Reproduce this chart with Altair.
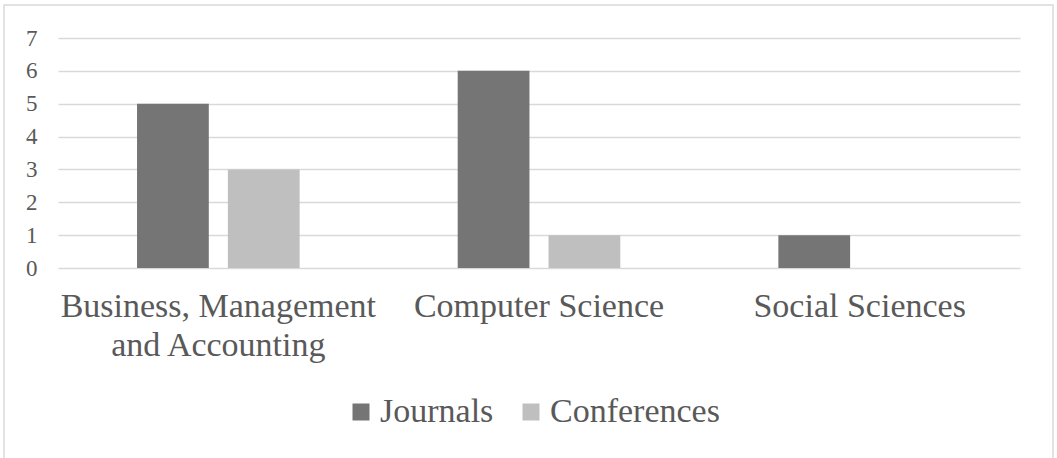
import altair as alt
import pandas as pd

categories = ["Business, Management and Accounting", "Computer Science", "Social Sciences"]
series = ["Journals", "Conferences"]
journals = [5, 6, 1]
conferences = [3, 1, 0]
colors = ["#757575", "#bfbfbf"]
y_ticks = [0, 1, 2, 3, 4, 5, 6, 7]

rows = []
for c, j, k in zip(categories, journals, conferences):
    rows.append({"category": c, "series": "Journals", "value": j})
    rows.append({"category": c, "series": "Conferences", "value": k})
df = pd.DataFrame(rows)

FONT = "Liberation Serif"
GRAY_TXT = "#595959"

bars = alt.Chart(df).mark_bar().encode(
    x=alt.X("category:N", sort=categories, title=None,
            scale=alt.Scale(paddingInner=0, paddingOuter=0),
            axis=alt.Axis(labelAngle=0, domain=False, ticks=False, grid=False,
                          labelFont=FONT, labelFontSize=34, labelColor=GRAY_TXT,
                          labelPadding=21, labelLineHeight=39, labelLimit=0,
                          labelExpr="datum.value == 'Business, Management and Accounting' ? ['Business, Management', 'and Accounting'] : datum.value")),
    xOffset=alt.XOffset("series:N", sort=series,
                        scale=alt.Scale(paddingInner=0.21, paddingOuter=0.87)),
    y=alt.Y("value:Q", title=None,
            scale=alt.Scale(domain=[0, 7], nice=False),
            axis=alt.Axis(values=y_ticks, domain=False, ticks=False, grid=True,
                          gridColor="#d9d9d9", gridWidth=1.5,
                          labelFont=FONT, labelFontSize=23, labelColor=GRAY_TXT,
                          labelPadding=21)),
    color=alt.Color("series:N", sort=series, title=None,
                    scale=alt.Scale(domain=series, range=colors),
                    legend=alt.Legend(orient="none", direction="horizontal",
                                      legendX=286, legendY=357,
                                      symbolType="square", symbolSize=289,
                                      symbolStrokeWidth=0,
                                      labelFont=FONT, labelFontSize=34,
                                      labelColor=GRAY_TXT, labelOffset=2,
                                      labelLimit=0, columnPadding=20)),
)

border = alt.Chart(pd.DataFrame({"a": [0]})).mark_rect(
    filled=False, stroke="#d9d9d9", strokeWidth=1.5
).encode(
    x=alt.value(-54), x2=alt.value(995), y=alt.value(-33), y2=alt.value(440)
)

chart = alt.layer(border, bars).properties(
    width=962, height=230,
    autosize=alt.AutoSizeParams(type="none"),
    padding={"left": 58, "top": 38, "right": 37, "bottom": 190},
).configure(
    background="white", font=FONT
).configure_view(strokeWidth=0, stroke="transparent").configure_legend(labelFont=FONT)

chart.save("out.html", embed_options={"renderer": "svg", "actions": False})
